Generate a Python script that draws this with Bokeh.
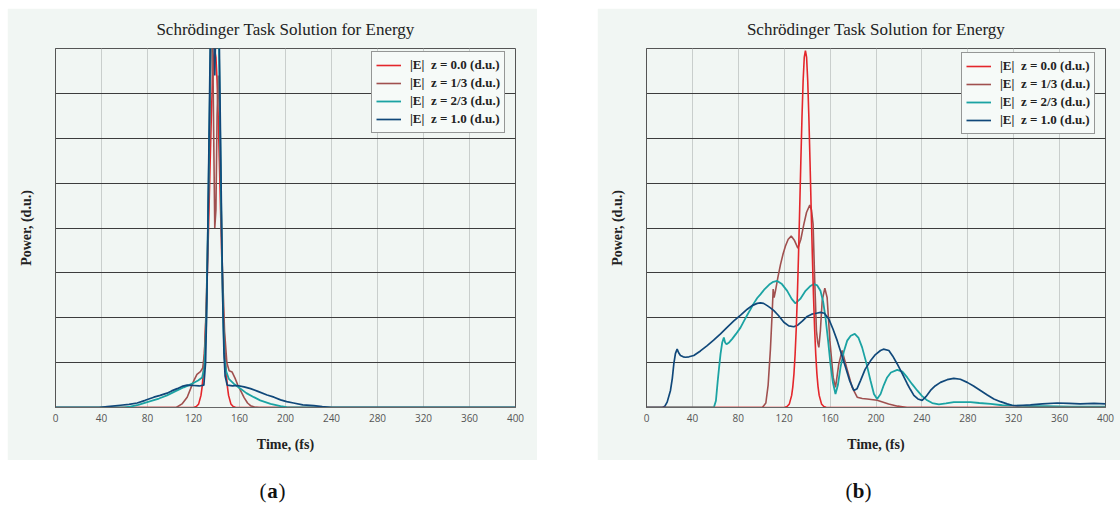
from bokeh.plotting import figure
from bokeh.models import Range1d, FixedTicker, Legend, LegendItem, Label, Spacer
from bokeh.layouts import row, column
from bokeh.embed import file_html
from bokeh.resources import INLINE

# ---------------- data ----------------
TITLE = "Schrödinger Task Solution for Energy"
X_LABEL = "Time, (fs)"
Y_LABEL = "Power, (d.u.)"
x_ticks = [0, 40, 80, 120, 160, 200, 240, 280, 320, 360, 400]
y_grid = [1, 2, 3, 4, 5, 6, 7]
series_names = ["|E|  z = 0.0 (d.u.)", "|E|  z = 1/3 (d.u.)",
                "|E|  z = 2/3 (d.u.)", "|E|  z = 1.0 (d.u.)"]

# z = 0.0 (input pulse, same in both panels)
red_t = [0, 112, 120.5, 122.5, 124.5, 126.5, 127.5, 128.5, 129.5, 130.5, 131.5, 132.5,
         133.5, 134.5, 135.5, 136.5, 137.5, 138.5, 139.5, 140.5, 141.5, 142.5, 143.5,
         144.5, 145.5, 146.5, 147.5, 148.5, 149.5, 150.5, 152.5, 154.5, 156.5, 165, 400]
red_p = [0, 0, 0.005, 0.02, 0.08, 0.27, 0.46, 0.75, 1.18, 1.76, 2.51, 3.42, 4.43, 5.48,
         6.47, 7.28, 7.81, 7.95, 7.81, 7.28, 6.47, 5.48, 4.43, 3.42, 2.51, 1.76, 1.18,
         0.75, 0.46, 0.27, 0.08, 0.02, 0.005, 0, 0]

# panel (a)
a_brown_t = [0, 105, 110, 114.5, 117.5, 120.3, 123, 126, 128, 129.5, 131, 132.5, 134,
             135.5, 136.5, 137.5, 138.5, 139.5, 140.5, 141.5, 142.5, 143.5, 145, 147, 149,
             151, 153.6, 156, 158.5, 160.9, 164, 167, 169.6, 173, 177, 400]
a_brown_p = [0, 0, 0.08, 0.23, 0.42, 0.6, 0.74, 0.8, 0.88, 1.2, 2.2, 3.8, 6.0, 8.2, 8.7,
             6.2, 4.0, 4.4, 6.5, 7.4, 6.8, 5.2, 3.2, 1.7, 1.0, 0.82, 0.79, 0.66, 0.5, 0.38,
             0.22, 0.1, 0.04, 0.01, 0, 0]
a_teal_t = [0, 60, 65, 72, 82.6, 90, 97, 104, 111.6, 116, 120.3, 124, 127.5, 129.5, 131,
            132, 133, 134, 135, 136, 137, 138.5, 140, 141, 142, 143, 144, 145, 146, 147,
            148.5, 150.7, 155, 160.9, 166, 172.5, 178, 187, 195.7, 201, 207, 400]
a_teal_p = [0, 0, 0.02, 0.06, 0.14, 0.2, 0.27, 0.36, 0.45, 0.5, 0.55, 0.6, 0.67, 0.9, 1.8,
            3.2, 4.8, 6.5, 8.3, 9.8, 10.8, 11.2, 10.8, 9.8, 8.3, 6.5, 4.6, 3.0, 1.8, 1.1,
            0.8, 0.64, 0.53, 0.42, 0.32, 0.23, 0.16, 0.08, 0.03, 0.01, 0, 0]
a_blue_t = [0, 38, 45, 56.5, 64, 71, 78, 85.5, 91, 97, 101, 105.8, 110, 114.5, 120, 125,
            129, 130.5, 131.5, 132.5, 133.5, 134.5, 135.5, 136.5, 137.5, 138.5, 139.5,
            140.5, 141.5, 142.5, 143.5, 144.5, 145.5, 146.5, 147.5, 149.3, 154, 158, 164,
            169.6, 176, 184, 190, 195.7, 201, 207, 215, 224.6, 232, 240, 400]
a_blue_p = [0, 0, 0.02, 0.05, 0.07, 0.1, 0.16, 0.23, 0.27, 0.32, 0.37, 0.42, 0.47, 0.5,
            0.49, 0.48, 0.5, 1.0, 2.2, 4.0, 6.0, 8.0, 9.5, 10.0, 8.8, 7.4, 8.6, 10.0, 9.6,
            8.0, 6.0, 4.0, 2.3, 1.2, 0.7, 0.5, 0.48, 0.49, 0.46, 0.42, 0.36, 0.28, 0.23,
            0.17, 0.13, 0.1, 0.06, 0.04, 0.02, 0, 0]

# panel (b)
b_brown_t = [0, 101, 104, 106, 108, 109.5, 110.4, 111.2, 112.4, 114.5, 116.8, 119, 121.1,
             123.5, 126.1, 129, 131.9, 134.5, 137.1, 139.5, 142.3, 143.8, 145.2, 146.4,
             147.3, 148.1, 149.2, 150.2, 151.5, 153.1, 155.4, 157.4, 159.8, 162.7, 164.7,
             167.6, 170.5, 174.3, 179.2, 183.6, 188, 192.3, 201, 211, 219, 227, 400]
b_brown_p = [0, 0, 0.1, 0.5, 1.3, 2.1, 2.64, 2.45, 2.6, 2.9, 3.19, 3.42, 3.6, 3.75, 3.82,
             3.72, 3.55, 3.75, 4.08, 4.35, 4.51, 4.4, 4.08, 2.98, 2.3, 1.71, 1.45, 1.34,
             1.7, 2.38, 2.66, 2.45, 1.49, 0.67, 0.45, 0.97, 1.27, 0.9, 0.45, 0.23, 0.2,
             0.19, 0.16, 0.08, 0.03, 0, 0]
b_teal_t = [0, 58.7, 60.5, 62.1, 63.3, 64.5, 66, 67.4, 68.5, 69.7, 72, 74.7, 78, 81.9, 85,
            87.8, 90.5, 93.5, 96.5, 99.3, 103, 107, 110.5, 113.9, 118, 122.6, 126.5, 129.8,
            134, 138.6, 142.5, 145.8, 148.8, 151.6, 154, 156, 158.2, 160.3, 162.5, 164.7,
            166.8, 169.1, 172, 174.9, 178, 181.5, 184.8, 187.9, 191.5, 195.2, 198.2, 201,
            204, 206.8, 209.7, 213, 218.5, 223, 227.2, 231.5, 235.9, 240, 244.6, 249, 254.8,
            261, 267.8, 275, 282.4, 290, 299.8, 310, 320, 335, 349, 370, 400]
b_teal_p = [0, 0, 0.15, 0.6, 0.9, 1.19, 1.45, 1.56, 1.45, 1.41, 1.45, 1.53, 1.64, 1.78,
            1.93, 2.06, 2.18, 2.32, 2.44, 2.52, 2.64, 2.74, 2.8, 2.82, 2.75, 2.6, 2.42, 2.32,
            2.42, 2.6, 2.7, 2.75, 2.72, 2.6, 2.35, 2.0, 1.5, 0.97, 0.55, 0.3, 0.5, 0.9,
            1.25, 1.49, 1.6, 1.64, 1.55, 1.34, 1.0, 0.6, 0.3, 0.19, 0.3, 0.5, 0.67, 0.78,
            0.84, 0.8, 0.67, 0.52, 0.38, 0.26, 0.16, 0.1, 0.07, 0.09, 0.12, 0.12, 0.12, 0.1,
            0.08, 0.05, 0.04, 0.03, 0.03, 0.02, 0.02]
b_blue_t = [0, 14, 16, 18, 20.9, 22.5, 23.8, 25.2, 26.7, 28, 29.6, 32, 34, 37, 41.2, 47,
            52.9, 58.5, 64.5, 70, 76.1, 82, 87.8, 92, 96.5, 99.3, 102, 105.2, 108, 111, 115,
            119.7, 124, 128.4, 132, 136, 140, 144, 148, 151.6, 155, 158.9, 162.5, 166.2,
            169.8, 173.4, 177, 180.7, 183.5, 186.5, 190.5, 195.2, 199.5, 203.9, 206.5,
            211.2, 214.5, 218.5, 223, 227.2, 230, 233, 236.5, 240.2, 243.5, 247.5, 251.5,
            256.2, 262, 267.8, 273.5, 279.5, 285, 291, 297, 302.7, 308.5, 314.3, 318.5, 323,
            328, 334.6, 345, 357.9, 368, 378, 390, 400]
b_blue_p = [0, 0, 0.03, 0.12, 0.38, 0.65, 0.97, 1.2, 1.3, 1.22, 1.16, 1.13, 1.12, 1.13,
            1.16, 1.26, 1.38, 1.5, 1.64, 1.78, 1.93, 2.06, 2.19, 2.27, 2.32, 2.33, 2.32,
            2.27, 2.22, 2.16, 2.05, 1.9, 1.82, 1.8, 1.84, 1.93, 2.03, 2.08, 2.1, 2.12, 2.1,
            1.97, 1.75, 1.49, 1.2, 0.9, 0.6, 0.38, 0.42, 0.6, 0.85, 1.04, 1.18, 1.27, 1.3,
            1.27, 1.15, 0.97, 0.75, 0.53, 0.4, 0.27, 0.19, 0.16, 0.24, 0.38, 0.48, 0.56,
            0.62, 0.65, 0.63, 0.56, 0.48, 0.38, 0.28, 0.19, 0.13, 0.08, 0.05, 0.04, 0.05,
            0.06, 0.08, 0.1, 0.09, 0.08, 0.09, 0.08]

# ---------------- styling ----------------
BG = "#f1f6f3"
COLORS = ["#e4262b", "#a0504f", "#1ba3a3", "#10487a"]
WIDTHS = [1.6, 1.6, 1.8, 1.7]
SERIF = "Liberation Serif"
SANS = "Open Sans"


def make_panel(width, bl, br, curves, order, legend_loc):
    p = figure(width=width, height=452, x_range=Range1d(0, 400), y_range=Range1d(0, 8),
               output_backend="svg", toolbar_location=None,
               min_border_left=bl, min_border_right=br, min_border_top=39,
               min_border_bottom=53, background_fill_color=BG, border_fill_color=BG,
               outline_line_color="#555555")
    p.title.text = TITLE
    p.title.align = "center"
    p.title.text_font = SERIF
    p.title.text_font_size = "17px"
    p.title.text_font_style = "normal"
    p.title.text_color = "#222222"
    p.title.standoff = 19

    p.xaxis.ticker = FixedTicker(ticks=x_ticks)
    p.xaxis.major_tick_out = 0
    p.xaxis.major_tick_in = 0
    p.xaxis.minor_tick_line_color = None
    p.xaxis.axis_line_color = "#666666"
    p.xaxis.major_label_text_font = SANS
    p.xaxis.major_label_text_font_size = "10px"
    p.xaxis.major_label_text_color = "#555555"
    p.xaxis.major_label_standoff = 6
    p.xaxis.axis_label = X_LABEL
    p.xaxis.axis_label_text_font = SERIF
    p.xaxis.axis_label_text_font_size = "14px"
    p.xaxis.axis_label_text_font_style = "bold"
    p.xaxis.axis_label_text_color = "#222222"
    p.xaxis.axis_label_standoff = 12

    p.yaxis.ticker = FixedTicker(ticks=[])
    p.yaxis.major_tick_out = 0
    p.yaxis.major_tick_in = 0
    p.yaxis.minor_tick_line_color = None
    p.yaxis.axis_line_color = "#555555"
    p.yaxis.axis_label = Y_LABEL
    p.yaxis.axis_label_text_font = SERIF
    p.yaxis.axis_label_text_font_size = "14px"
    p.yaxis.axis_label_text_font_style = "bold"
    p.yaxis.axis_label_text_color = "#222222"
    p.yaxis.axis_label_standoff = 22

    p.xgrid.grid_line_color = "#c9cecc"
    p.xgrid.grid_line_width = 1
    p.ygrid.ticker = FixedTicker(ticks=y_grid)
    p.ygrid.grid_line_color = "#3c3c3c"
    p.ygrid.grid_line_width = 1

    renderers = [None] * 4
    for i in order:
        t, v = curves[i]
        renderers[i] = p.line(t, v, line_color=COLORS[i], line_width=WIDTHS[i])

    items = [LegendItem(label=series_names[i], renderers=[renderers[i]]) for i in range(4)]
    leg = Legend(items=items, location=legend_loc)
    leg.label_text_font = SERIF
    leg.label_text_font_size = "13px"
    leg.label_text_font_style = "bold"
    leg.label_text_color = "#222222"
    leg.glyph_width = 25
    leg.glyph_height = 18
    leg.label_height = 18
    leg.label_standoff = 9
    leg.spacing = 0
    leg.padding = 4
    leg.margin = 0
    leg.border_line_color = "#333333"
    leg.border_line_width = 1
    leg.background_fill_color = "#f6faf8"
    leg.background_fill_alpha = 1
    p.add_layout(leg, "center")
    return p


curves_a = [(red_t, red_p), (a_brown_t, a_brown_p), (a_teal_t, a_teal_p), (a_blue_t, a_blue_p)]
curves_b = [(red_t, red_p), (b_brown_t, b_brown_p), (b_teal_t, b_teal_p), (b_blue_t, b_blue_p)]

pa = make_panel(530, 48, 22, curves_a, [0, 1, 2, 3], (316, 274))
pb = make_panel(523, 49, 15, curves_b, [1, 2, 3, 0], (315, 273))

# panel captions
cap = figure(width=1120, height=53, x_range=Range1d(0, 1120), y_range=Range1d(0, 53),
             output_backend="svg", toolbar_location=None, min_border=0,
             background_fill_color="white", border_fill_color="white",
             outline_line_color=None)
cap.axis.visible = False
cap.grid.visible = False
for cx, letter in [(272, "a"), (858, "b")]:
    cap.add_layout(Label(x=cx - 6, y=23, text="(", text_align="right", text_baseline="middle",
                         text_font=SERIF, text_font_size="21px", text_color="#111111"))
    cap.add_layout(Label(x=cx, y=23, text=letter, text_align="center", text_baseline="middle",
                         text_font=SERIF, text_font_size="21px", text_font_style="bold",
                         text_color="#111111"))
    cap.add_layout(Label(x=cx + 6, y=23, text=")", text_align="left", text_baseline="middle",
                         text_font=SERIF, text_font_size="21px", text_color="#111111"))

layout = column(Spacer(width=1120, height=8),
                row(Spacer(width=7, height=452), pa, Spacer(width=60, height=452), pb),
                cap)

open("out.html", "w").write(file_html(layout, INLINE))
